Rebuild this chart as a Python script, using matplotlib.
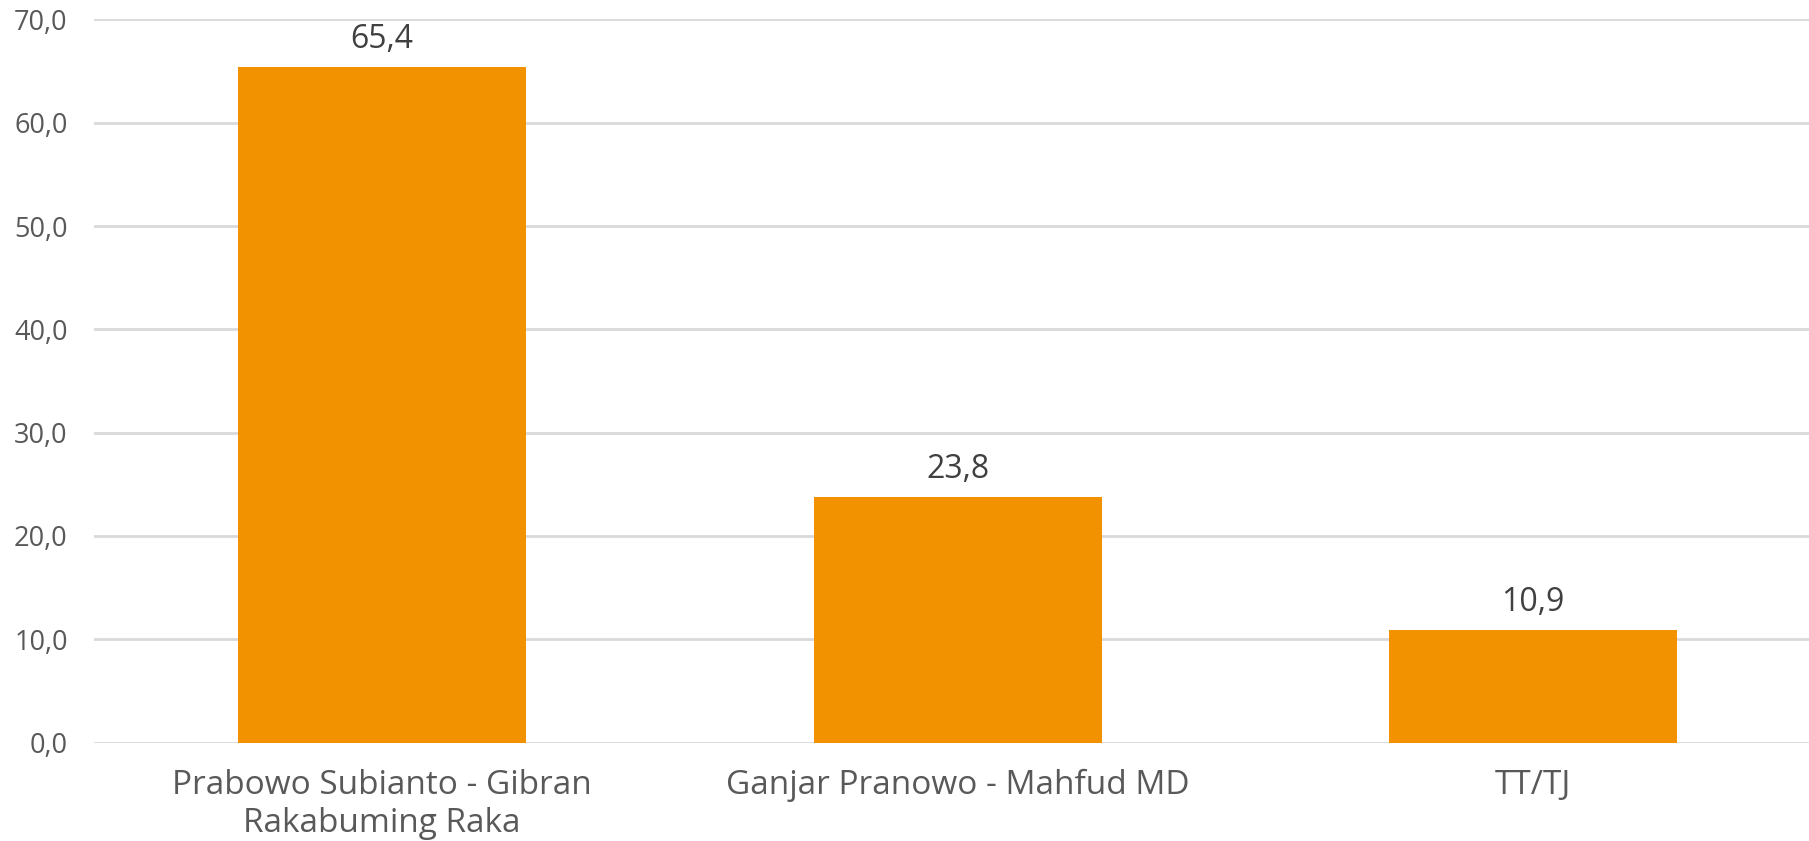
import matplotlib.pyplot as plt
from matplotlib.ticker import FuncFormatter

plt.rcParams['font.family'] = ['Open Sans', 'DejaVu Sans']

# Data
candidates = ["Prabowo Subianto - Gibran\nRakabuming Raka",
              "Ganjar Pranowo - Mahfud MD",
              "TT/TJ"]
shares = [65.4, 23.8, 10.9]
y_ticks = [0, 10, 20, 30, 40, 50, 60, 70]

fig = plt.figure(figsize=(18.09, 8.41), dpi=100)
ax = fig.add_axes([0.052, 0.117, 0.9547, 0.8599])

x = range(len(candidates))
bars = ax.bar(x, shares, width=0.5, color='#f39200', zorder=3)

for b, v in zip(bars, shares):
    ax.annotate(f"{v:.1f}".replace('.', ','),
                (b.get_x() + b.get_width() / 2, v),
                xytext=(0, 8), textcoords='offset points',
                ha='center', va='bottom', fontsize=23, color='#404040')

ax.set_xlim(-0.5, len(candidates) - 0.5)
ax.set_ylim(0, 70)
ax.set_yticks(y_ticks)
ax.yaxis.set_major_formatter(FuncFormatter(lambda v, p: f"{v:.1f}".replace('.', ',')))
ax.set_xticks(list(x))
ax.set_xticklabels(candidates, fontsize=24, color='#595959', linespacing=1.2)
ax.tick_params(axis='y', labelsize=19.5, labelcolor='#595959', length=0, pad=19)
ax.tick_params(axis='x', length=0, pad=19)

ax.grid(axis='y', color='#d9d9d9', linewidth=2, zorder=0)
ax.set_axisbelow(True)
for s in ax.spines.values():
    s.set_visible(False)

fig.savefig("out.png", dpi=100)
